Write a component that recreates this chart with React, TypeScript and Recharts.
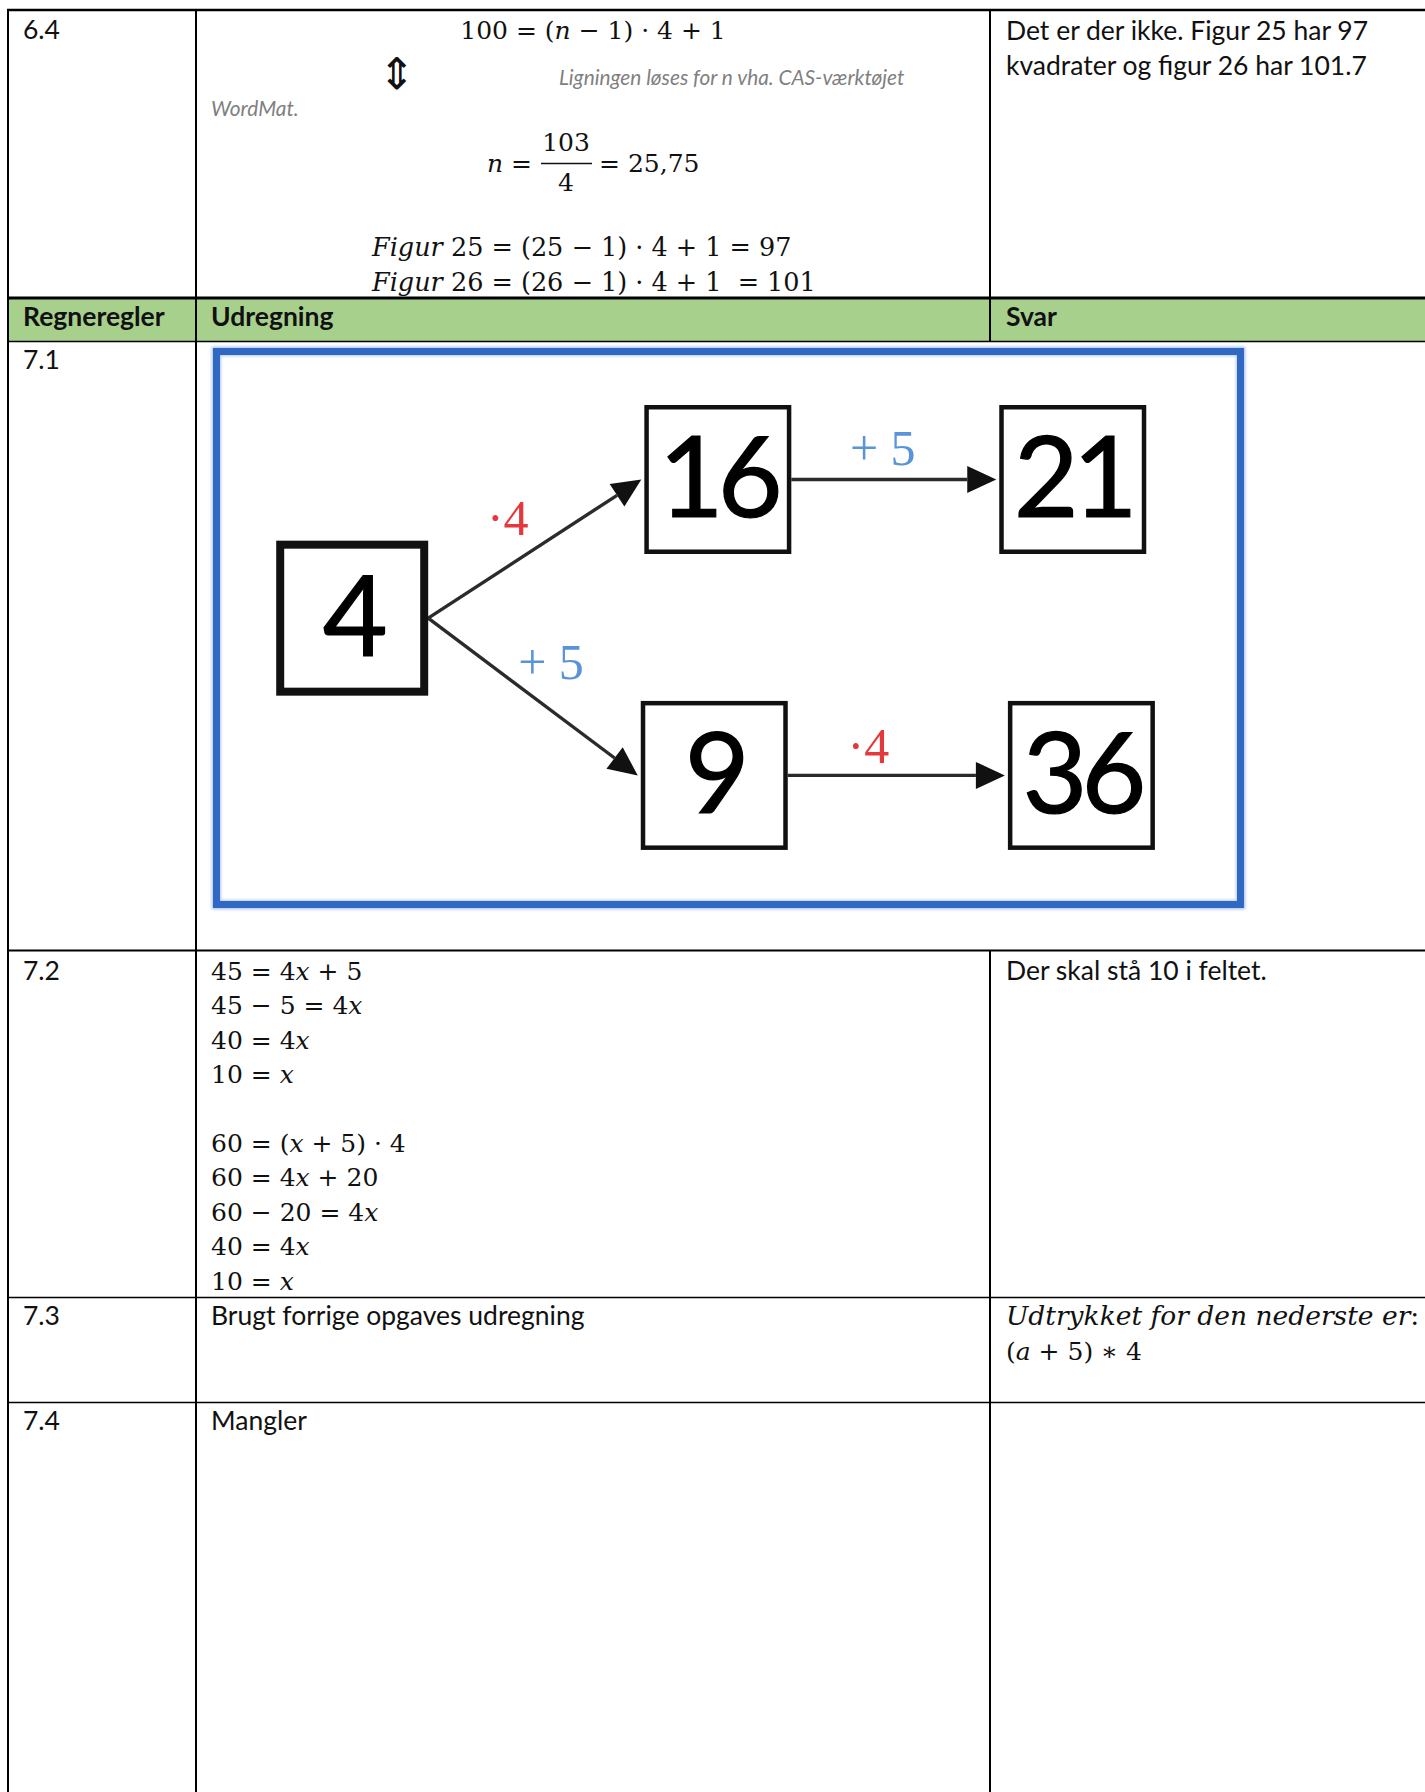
import React from "react"
import { ScatterChart, Scatter, XAxis, YAxis, ReferenceLine, Surface } from "recharts"

const SANS = "Lato, 'Noto Sans', sans-serif"
const MATH = "'DejaVu Serif', serif"
const LABEL_SERIF = "'Liberation Serif', serif"

// table text
const ROW_LABELS = ["6.4", "7.1", "7.2", "7.3", "7.4"]
const HEADERS = ["Regneregler", "Udregning", "Svar"]
const ANSWER_64 = ["Det er der ikke. Figur 25 har 97", "kvadrater og figur 26 har 101.7"]
const EQ_64 = "100 = (n − 1) · 4 + 1"
const NOTE_64 = ["Ligningen løses for n vha. CAS-værktøjet", "WordMat."]
const FRACTION_64 = { lhs: "n =", num: "103", den: "4", rhs: "= 25,75" }
const FIGUR_64 = ["Figur 25 = (25 − 1) · 4 + 1 = 97", "Figur 26 = (26 − 1) · 4 + 1  = 101"]
const EQ_72 = [
  "45 = 4x + 5", "45 − 5 = 4x", "40 = 4x", "10 = x", "",
  "60 = (x + 5) · 4", "60 = 4x + 20", "60 − 20 = 4x", "40 = 4x", "10 = x",
]
const ANSWER_72 = "Der skal stå 10 i feltet."
const TEXT_73 = "Brugt forrige opgaves udregning"
const ANSWER_73 = ["Udtrykket for den nederste er:", "(a + 5) ∗ 4"]
const TEXT_74 = "Mangler"

// flow diagram (positions in % of the framed area)
const NODES = [
  { id: "4", x: 13.0, y: 48.2 },
  { id: "16", x: 48.95, y: 22.8 },
  { id: "21", x: 83.85, y: 22.8 },
  { id: "9", x: 48.6, y: 77.0 },
  { id: "36", x: 84.7, y: 77.0 },
]
const EDGES = [
  { from: "4", to: "16", op: "·4", kind: "mul" },
  { from: "4", to: "9", op: "+ 5", kind: "add" },
  { from: "16", to: "21", op: "+ 5", kind: "add" },
  { from: "9", to: "36", op: "·4", kind: "mul" },
]

const OP_COLOR: Record<string, string> = { mul: "#E3393C", add: "#5A93D8" }
const LABEL_NUDGE = [[-27, -30], [18, -34], [-11, -30], [-28, -28]]

const CW = 1017
const CH = 546

function mathSpans(s: string) {
  const parts = s.split(/([A-Za-z]+)/)
  return parts.map((p, i) =>
    /[A-Za-z]/.test(p)
      ? <tspan key={i} fontStyle="italic">{p}</tspan>
      : <tspan key={i}>{p}</tspan>)
}

function nodeSize(id: string) {
  const isRoot = !EDGES.some(e => e.to === id)
  return isRoot ? { w: 152, h: 155, sw: 8 } : { w: 147, h: 149, sw: 4.5 }
}

function nodeById(id: string) {
  return NODES.find(n => n.id === id)!
}

// eslint-disable-next-line @typescript-eslint/no-explicit-any
function NodeShape(props: any) {
  const { cx, cy, payload } = props
  const { w, h, sw } = nodeSize(payload.id)
  return (
    <g>
      <rect x={cx - w / 2 + sw / 2} y={cy - h / 2 + sw / 2} width={w - sw} height={h - sw}
        fill="#fff" stroke="#111" strokeWidth={sw} />
      <text x={cx} y={cy + 38} textAnchor="middle" fontFamily={SANS} fontSize={112}
        letterSpacing={-6} fill="#000" stroke="#000" strokeWidth={1.2}>{payload.id}</text>
    </g>
  )
}

function arrowShape(i: number) {
  const edge = EDGES[i]
  // eslint-disable-next-line @typescript-eslint/no-explicit-any
  return (props: any) => {
    const { x1, y1, x2, y2 } = props
    const ang = Math.atan2(y2 - y1, x2 - x1)
    const len = 29, half = 13.5
    const bx = x2 - len * Math.cos(ang), by = y2 - len * Math.sin(ang)
    const px = -Math.sin(ang) * half, py = Math.cos(ang) * half
    const mx = (x1 + x2) / 2 + LABEL_NUDGE[i][0]
    const my = (y1 + y2) / 2 + LABEL_NUDGE[i][1]
    return (
      <g>
        <line x1={x1} y1={y1} x2={bx} y2={by} stroke="#2b2b2b" strokeWidth={3.4} />
        <polygon points={`${x2},${y2} ${bx + px},${by + py} ${bx - px},${by - py}`} fill="#111" />
        <text x={mx} y={my + 16} textAnchor="middle" fontFamily={LABEL_SERIF} fontSize={50}
          fill={OP_COLOR[edge.kind]} xmlSpace="preserve">{edge.op}</text>
      </g>
    )
  }
}

function FlowDiagram() {
  const segs = EDGES.map(e => {
    const a = nodeById(e.from), b = nodeById(e.to)
    const sa = nodeSize(a.id), sb = nodeSize(b.id)
    return [
      { x: a.x + (sa.w / 2) / (CW / 100), y: a.y },
      { x: b.x - (sb.w / 2 + 3) / (CW / 100), y: b.y },
    ]
  })
  return (
    <div style={{
      position: "absolute", left: 213, top: 348, width: 1031, height: 560, boxSizing: "border-box",
      border: "7px solid #3069C4", boxShadow: "0 0 3px 1px rgba(80,130,205,0.55), inset 0 0 3px 1px rgba(80,130,205,0.45)",
      background: "#fff",
    }}>
      <ScatterChart width={CW} height={CH} margin={{ top: 0, right: 0, bottom: 0, left: 0 }}>
        <XAxis type="number" dataKey="x" domain={[0, 100]} hide />
        <YAxis type="number" dataKey="y" domain={[0, 100]} reversed hide />
        {segs.map((s, i) => (
          <ReferenceLine key={i} segment={s} shape={arrowShape(i)} ifOverflow="visible" />
        ))}
        <Scatter data={NODES} shape={NodeShape} isAnimationActive={false} />
      </ScatterChart>
    </div>
  )
}

export default function App() {
  const rowBase = [39, 369, 980, 1325, 1430]
  return (
    <div style={{ position: "absolute", left: 0, top: 0, width: 1425, height: 1792, background: "#fff", overflow: "hidden" }}>
      <Surface width={1425} height={1792} style={{ position: "absolute", left: 0, top: 0 }}>
        {/* header band */}
        <rect x={9} y={299} width={1416} height={42} fill="#A8D08D" />

        {/* rules */}
        <g stroke="#000">
          <line x1={7} y1={10} x2={1425} y2={10} strokeWidth={2.5} />
          <line x1={8} y1={9} x2={8} y2={1792} strokeWidth={2} />
          <line x1={196} y1={9} x2={196} y2={1792} strokeWidth={2} />
          <line x1={990} y1={9} x2={990} y2={342} strokeWidth={2} />
          <line x1={990} y1={950} x2={990} y2={1792} strokeWidth={2} />
          <line x1={7} y1={298} x2={1425} y2={298} strokeWidth={3} />
          <line x1={7} y1={341.5} x2={1425} y2={341.5} strokeWidth={1.6} />
          <line x1={7} y1={950.5} x2={1425} y2={950.5} strokeWidth={2} />
          <line x1={7} y1={1297.5} x2={1425} y2={1297.5} strokeWidth={1.6} />
          <line x1={7} y1={1402.5} x2={1425} y2={1402.5} strokeWidth={1.6} />
        </g>

        <g fontFamily={SANS} fontSize={26.5} fill="#111">
          {ROW_LABELS.map((l, i) => <text key={l} x={23} y={rowBase[i]}>{l}</text>)}
          {HEADERS.map((h, i) => (
            <text key={h} x={[23, 211, 1006][i]} y={326} fontWeight={700}>{h}</text>
          ))}
          {ANSWER_64.map((t, i) => <text key={t} x={1006} y={40 + i * 35}>{t}</text>)}
          <text x={1006} y={980}>{ANSWER_72}</text>
          <text x={211} y={1325}>{TEXT_73}</text>
          <text x={211} y={1430}>{TEXT_74}</text>
        </g>

        {/* 6.4 working */}
        <g fontFamily={MATH} fontSize={25} fill="#111">
          <text x={593} y={39} textAnchor="middle" xmlSpace="preserve">{mathSpans(EQ_64)}</text>
          <text x={397} y={89} textAnchor="middle" fontFamily="'DejaVu Sans', sans-serif" fontSize={44}>⇕</text>
          <text x={532} y={172} textAnchor="end" xmlSpace="preserve">{mathSpans(FRACTION_64.lhs)}</text>
          <text x={566} y={151} textAnchor="middle">{FRACTION_64.num}</text>
          <line x1={541} y1={163.5} x2={592} y2={163.5} stroke="#111" strokeWidth={1.6} />
          <text x={566} y={191} textAnchor="middle">{FRACTION_64.den}</text>
          <text x={599} y={172} xmlSpace="preserve">{FRACTION_64.rhs}</text>
          {FIGUR_64.map((t, i) => (
            <text key={t} x={372} y={256 + i * 34.7} fontSize={25.5} xmlSpace="preserve">{mathSpans(t)}</text>
          ))}
        </g>
        <g fontFamily={SANS} fontSize={20.8} fontStyle="italic" fill="#808080">
          <text x={559} y={85}>{NOTE_64[0]}</text>
          <text x={211} y={116}>{NOTE_64[1]}</text>
        </g>

        {/* 7.2 working */}
        <g fontFamily={MATH} fontSize={25} fill="#111">
          {EQ_72.map((t, i) => t
            ? <text key={i} x={211} y={980 + i * 34.4} xmlSpace="preserve">{mathSpans(t)}</text>
            : null)}
          <text x={1006} y={1325} fontSize={26.5} xmlSpace="preserve">{mathSpans(ANSWER_73[0])}</text>
          <text x={1006} y={1360} xmlSpace="preserve">{mathSpans(ANSWER_73[1])}</text>
        </g>
      </Surface>
      <FlowDiagram />
    </div>
  )
}
